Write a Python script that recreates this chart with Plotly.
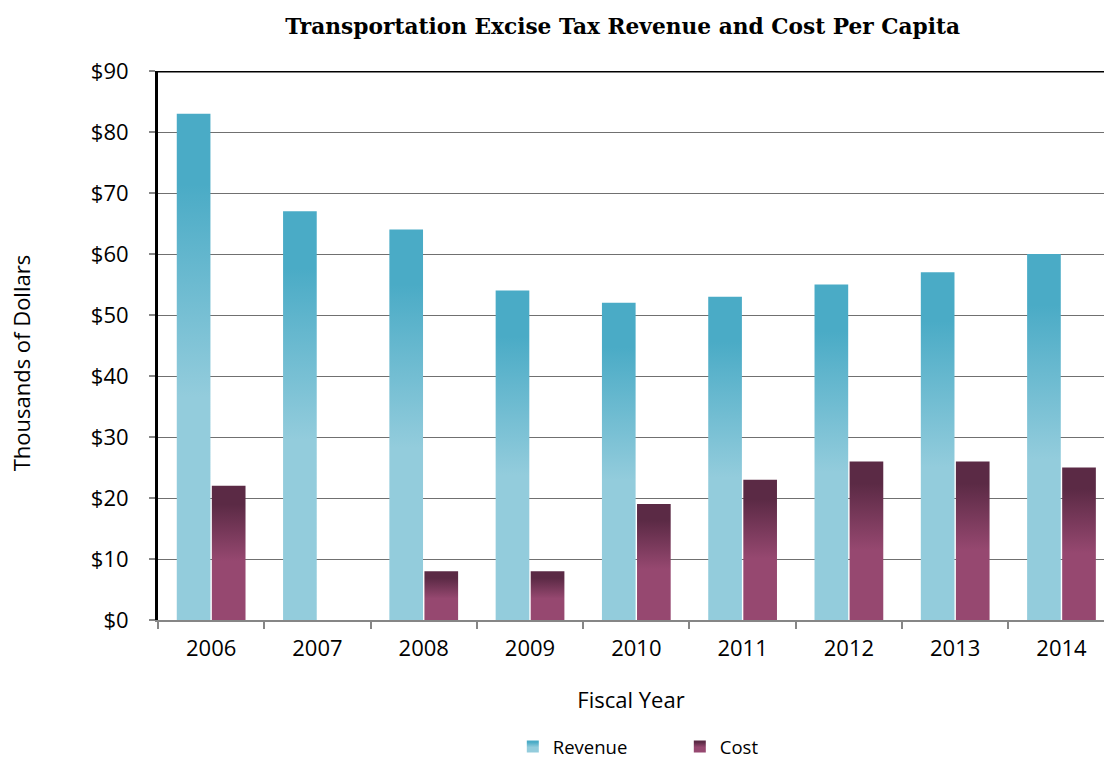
import plotly.graph_objects as go

# Fiscal years and per-capita figures (thousands of dollars)
years = ["2006", "2007", "2008", "2009", "2010", "2011", "2012", "2013", "2014"]
revenue = [83, 67, 64, 54, 52, 53, 55, 57, 60]
cost = [22, 0, 8, 8, 19, 23, 26, 26, 25]
y_ticks = [0, 10, 20, 30, 40, 50, 60, 70, 80, 90]
y_tick_labels = ["$" + str(v) for v in y_ticks]

REV_DARK, REV_LIGHT = "#4AABC6", "#93CCDC"
COST_DARK, COST_LIGHT = "#5B2A45", "#964870"
FONT = "Open Sans"

fig = go.Figure()
fig.add_trace(go.Bar(name="Revenue", x=years, y=revenue,
                     marker=dict(color=REV_LIGHT, line=dict(width=0))))
fig.add_trace(go.Bar(name="Cost", x=years, y=cost,
                     marker=dict(color=COST_LIGHT, line=dict(width=0))))

fig.update_layout(
    width=1104, height=758,
    margin=dict(l=158, r=0, t=71, b=138),
    paper_bgcolor="white", plot_bgcolor="white",
    barmode="group", bargap=0.34, bargroupgap=0.04,
    title=dict(text="<b>Transportation Excise Tax Revenue and Cost Per Capita</b>",
               font=dict(family="DejaVu Serif", size=21.7, color="black"),
               x=0.564, xanchor="center", y=0.965, yanchor="middle"),
    font=dict(family=FONT, color="black"),
    legend=dict(orientation="h", xref="container", yref="container",
                x=0.4645, xanchor="left", y=0.0145, yanchor="middle",
                font=dict(size=18.5, family=FONT), entrywidth=122, entrywidthmode="pixels",
                itemwidth=30, traceorder="normal"),
    showlegend=True,
)

fig.update_xaxes(
    type="category", range=[-0.5, 8.4],
    tickson="boundaries", ticks="outside", ticklen=7, tickwidth=2, tickcolor="#868686",
    showline=True, linecolor="#868686", linewidth=2,
    showgrid=False, tickfont=dict(size=22, family=FONT), ticklabelstandoff=8,
    title=dict(text="Fiscal Year", font=dict(size=22, family=FONT), standoff=31),
)
fig.update_yaxes(
    range=[0, 90], tickvals=y_ticks, ticktext=y_tick_labels,
    ticks="outside", ticklen=6, tickwidth=2, tickcolor="#868686",
    showline=True, linecolor="black", linewidth=3,
    showgrid=True, gridcolor="#707070", gridwidth=1.3, zeroline=False,
    tickfont=dict(size=22, family=FONT), ticklabelstandoff=16,
)

# Vertical axis title, placed to the far left
fig.add_annotation(text="Thousands of Dollars", textangle=-90,
                   xref="paper", yref="paper", x=-0.1445, y=0.468,
                   xanchor="center", yanchor="middle", showarrow=False,
                   font=dict(size=22, family=FONT, color="black"))

# Top border of the plot area
fig.add_shape(type="line", xref="paper", yref="y", x0=0, x1=1, y0=90, y1=90,
              line=dict(color="black", width=3))

# Vertical gradient fill for bars and legend swatches
post_js = """
var gd = document.getElementById('{plot_id}');
function applyGradients() {
  var svg = gd.querySelector('svg.main-svg');
  var ns = 'http://www.w3.org/2000/svg';
  var defs = svg.querySelector('defs');
  if (!defs) { defs = document.createElementNS(ns, 'defs'); svg.insertBefore(defs, svg.firstChild); }
  function grad(id, dark, light) {
    if (document.getElementById(id)) return;
    var g = document.createElementNS(ns, 'linearGradient');
    g.setAttribute('id', id);
    g.setAttribute('x1', '0'); g.setAttribute('y1', '0');
    g.setAttribute('x2', '0'); g.setAttribute('y2', '1');
    [[0, dark], [0.14, dark], [0.56, light], [1, light]].forEach(function(s) {
      var st = document.createElementNS(ns, 'stop');
      st.setAttribute('offset', s[0]);
      st.setAttribute('stop-color', s[1]);
      g.appendChild(st);
    });
    defs.appendChild(g);
  }
  grad('gradRev', '%s', '%s');
  grad('gradCost', '%s', '%s');
  var ids = ['gradRev', 'gradCost'];
  gd.querySelectorAll('g.trace.bars').forEach(function(t, i) {
    t.querySelectorAll('path').forEach(function(p) { p.style.fill = 'url(#' + ids[i] + ')'; });
  });
  gd.querySelectorAll('.legend .traces').forEach(function(t, i) {
    t.querySelectorAll('.legendpoints path').forEach(function(p) { p.style.fill = 'url(#' + ids[i] + ')'; });
  });
}
applyGradients();
gd.on('plotly_afterplot', applyGradients);
""" % (REV_DARK, REV_LIGHT, COST_DARK, COST_LIGHT)

fig.write_html("out.html", post_script=post_js)
